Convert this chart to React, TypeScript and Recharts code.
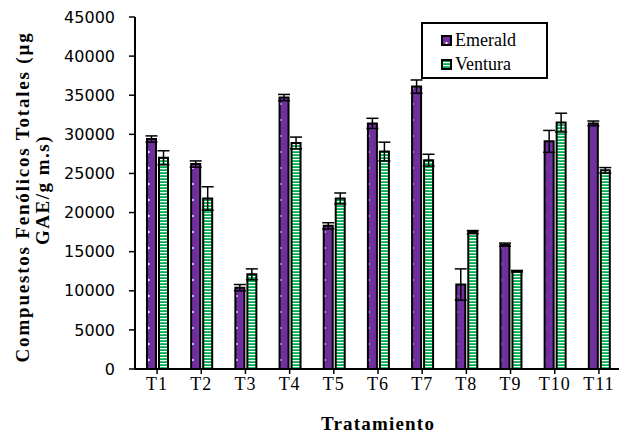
import React from 'react';
import { BarChart, Bar, XAxis, YAxis, ErrorBar, Label } from 'recharts';

const categories = ['T1', 'T2', 'T3', 'T4', 'T5', 'T6', 'T7', 'T8', 'T9', 'T10', 'T11'];
const emerald = [29400, 26200, 10400, 34700, 18300, 31400, 36100, 10800, 15900, 29100, 31400];
const ventura = [27000, 21800, 12100, 28900, 21800, 27800, 26700, 17500, 12500, 31500, 25400];
const emeraldErr = [400, 400, 400, 400, 400, 650, 850, 2000, 200, 1400, 300];
const venturaErr = [900, 1500, 700, 750, 700, 1200, 750, 200, 100, 1200, 350];
const yTicks = [0, 5000, 10000, 15000, 20000, 25000, 30000, 35000, 40000, 45000];
const seriesNames = ['Emerald', 'Ventura'];

const data = categories.map((c, i) => ({
  name: c,
  Emerald: emerald[i],
  Ventura: ventura[i],
  errE: emeraldErr[i],
  errV: venturaErr[i],
}));

const PURPLE = '#7030A0';
const GREEN = '#00B050';
const SERIF = '"Liberation Serif", "Times New Roman", serif';

const LegendBox = () => (
  <div
    style={{
      position: 'absolute',
      left: 421,
      top: 22,
      border: '2px solid #000',
      background: '#fff',
      width: 127,
      height: 57,
      boxSizing: 'border-box',
      padding: '4px 0 0 18px',
      fontFamily: SERIF,
      fontSize: 18,
      lineHeight: '24px',
      color: '#000',
    }}
  >
    {seriesNames.map((label, i) => (
      <div key={label} style={{ display: 'flex', alignItems: 'center' }}>
        <svg width={11} height={11} style={{ marginRight: 3 }}>
          <rect x={1} y={1} width={9} height={9} fill={i === 0 ? 'url(#dotsP)' : 'url(#stripesG)'} stroke="#000" strokeWidth={2} />
        </svg>
        <span>{label}</span>
      </div>
    ))}
  </div>
);

const YLabel = () => (
  <g>
    <text
      transform="translate(29,197) rotate(-90)"
      textAnchor="middle"
      fontFamily={SERIF}
      fontWeight="bold"
      fontSize={19}
      letterSpacing={1.8}
      fill="#000"
    >
      Compuestos Fenólicos Totales (µg
    </text>
    <text
      transform="translate(49,190) rotate(-90)"
      textAnchor="middle"
      fontFamily={SERIF}
      fontWeight="bold"
      fontSize={19}
      letterSpacing={1.5}
      fill="#000"
    >
      GAE/g m.s)
    </text>
  </g>
);

const XLabel = () => (
  <text x={378} y={430} textAnchor="middle" fontFamily={SERIF} fontWeight="bold" fontSize={19} letterSpacing={1.2} fill="#000">
    Tratamiento
  </text>
);

export default function App() {
  return (
    <div style={{ position: 'absolute', left: 0, top: 0, width: 619, height: 434, overflow: 'hidden', background: '#fff' }}>
      <svg width={0} height={0} style={{ position: 'absolute' }}>
        <defs>
          <pattern id="dotsP" patternUnits="userSpaceOnUse" width={11} height={16}>
            <rect x={0} y={0} width={11} height={16} fill={PURPLE} />
            <rect x={4.5} y={7} width={2} height={2} fill="#fff" />
          </pattern>
          <pattern id="stripesG" patternUnits="userSpaceOnUse" width={10} height={3}>
            <rect x={0} y={0} width={10} height={3} fill={GREEN} />
            <rect x={0} y={0} width={10} height={1.2} fill="#fff" />
          </pattern>
        </defs>
      </svg>
      <BarChart
        width={640}
        height={434}
        data={data}
        margin={{ top: 17, right: 19, left: 0, bottom: 35 }}
        barSize={9}
        barGap={3}
      >
        <XAxis
          dataKey="name"
          height={30}
          axisLine={{ stroke: '#000', strokeWidth: 2 }}
          tickLine={{ stroke: '#000', strokeWidth: 1.5 }}
          tickSize={5}
          tickMargin={3}
          tick={{ fontFamily: SERIF, fontSize: 18, fill: '#000', letterSpacing: 1 }}
          interval={0}
        >
          <Label content={<XLabel />} />
        </XAxis>
        <YAxis
          width={135}
          domain={[0, 45000]}
          ticks={yTicks}
          interval={0}
          allowDataOverflow
          axisLine={{ stroke: '#000', strokeWidth: 2 }}
          tickLine={{ stroke: '#000', strokeWidth: 1.5 }}
          tickSize={6}
          tickMargin={14}
          tick={{ fontFamily: '"DejaVu Sans", sans-serif', fontSize: 16, fill: '#000' }}
        >
          <Label content={<YLabel />} />
        </YAxis>
        <Bar dataKey="Emerald" fill="url(#dotsP)" stroke="#000" strokeWidth={2} isAnimationActive={false}>
          <ErrorBar dataKey="errE" width={6} stroke="#000" strokeWidth={1.5} direction="y" />
        </Bar>
        <Bar dataKey="Ventura" fill="url(#stripesG)" stroke="#000" strokeWidth={2} isAnimationActive={false}>
          <ErrorBar dataKey="errV" width={6} stroke="#000" strokeWidth={1.5} direction="y" />
        </Bar>
      </BarChart>
      <LegendBox />
    </div>
  );
}
